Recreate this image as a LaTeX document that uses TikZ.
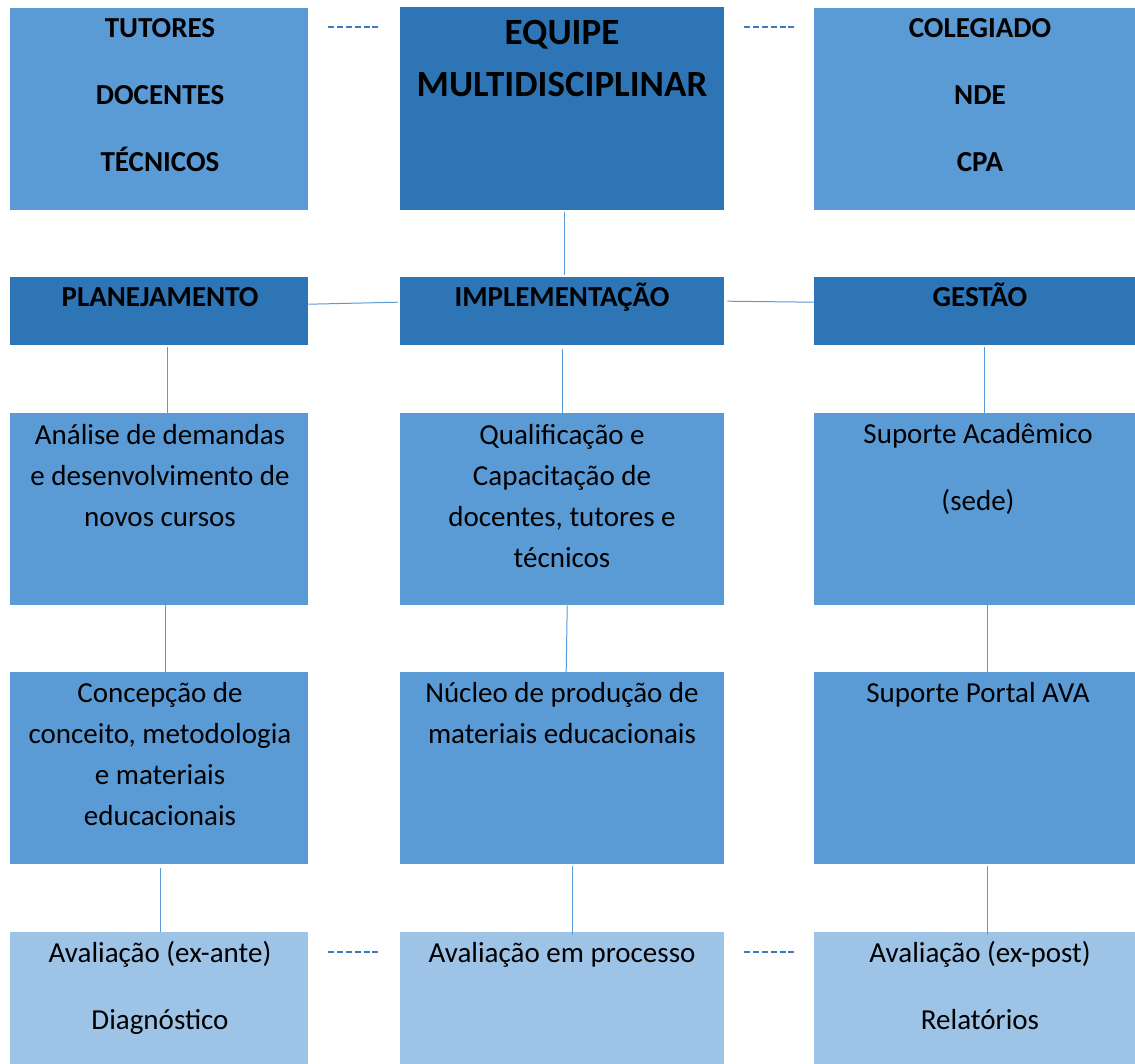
\documentclass[tikz,border=0pt]{standalone}
\usepackage{fontspec}
\setmainfont{Carlito}
\definecolor{midblue}{HTML}{5B9BD5}
\definecolor{darkblue}{HTML}{2E75B6}
\definecolor{lightblue}{HTML}{9DC3E6}
\definecolor{dashblue}{HTML}{3A7BC0}
\tikzset{
  boxbase/.style={anchor=north west, inner sep=0pt, draw=none},
  midbox/.style={boxbase, fill=midblue},
  darkbox/.style={boxbase, fill=darkblue},
  lightbox/.style={boxbase, fill=lightblue},
  txt/.style={anchor=base, inner sep=0pt, align=center, font=\fontsize{29}{41}\selectfont},
  wtxt/.style={anchor=base, inner sep=0pt, align=center, font=\fontsize{29}{67}\selectfont},
  btxt/.style={anchor=base, inner sep=0pt, align=center, font=\bfseries\fontsize{29}{67}\selectfont},
  bigtxt/.style={anchor=base, inner sep=0pt, align=center, font=\bfseries\fontsize{37}{52}\selectfont},
  link/.style={draw=midblue, line width=1pt},
  dashlink/.style={draw=dashblue, line width=2.6pt, dash pattern=on 6pt off 2.8pt}
}
\begin{document}
\begin{tikzpicture}[x=1pt,y=-1pt]
\useasboundingbox (0,0) rectangle (1135,1063);
% row 1
\node[midbox, minimum width=298pt, minimum height=202pt] (tut) at (10,8) {};
\node[darkbox, minimum width=324pt, minimum height=203pt] (equipe) at (400,7) {};
\node[midbox, minimum width=331pt, minimum height=202pt] (coleg) at (814,8) {};
% row 2
\node[darkbox, minimum width=298pt, minimum height=68pt] (plan) at (10,277) {};
\node[darkbox, minimum width=324pt, minimum height=68pt] (impl) at (400,277) {};
\node[darkbox, minimum width=331pt, minimum height=68pt] (gest) at (814,277) {};
% row 3
\node[midbox, minimum width=298pt, minimum height=192pt] (ana) at (10,413) {};
\node[midbox, minimum width=324pt, minimum height=192pt] (qual) at (400,413) {};
\node[midbox, minimum width=331pt, minimum height=192pt] (supa) at (814,413) {};
% row 4
\node[midbox, minimum width=298pt, minimum height=192pt] (conc) at (10,672) {};
\node[midbox, minimum width=324pt, minimum height=192pt] (nucl) at (400,672) {};
\node[midbox, minimum width=331pt, minimum height=192pt] (supp) at (814,672) {};
% row 5
\node[lightbox, minimum width=298pt, minimum height=160pt] (aval1) at (10,932) {};
\node[lightbox, minimum width=324pt, minimum height=160pt] (aval2) at (400,932) {};
\node[lightbox, minimum width=331pt, minimum height=160pt] (aval3) at (814,932) {};

% texts (anchor = baseline of the last line)
\node[btxt] (tutT) at (160,171) {TUTORES\\DOCENTES\\TÉCNICOS};
\node[bigtxt] (equipeT) at (562,96) {EQUIPE\\MULTIDISCIPLINAR};
\node[btxt] (colegT) at (980,171) {COLEGIADO\\NDE\\CPA};
\node[btxt] (planT) at (160,306) {PLANEJAMENTO};
\node[btxt] (implT) at (562,306) {IMPLEMENTAÇÃO};
\node[btxt] (gestT) at (980,306) {GESTÃO};
\node[txt] (anaT) at (160,526) {Análise de demandas\\e desenvolvimento de\\novos cursos};
\node[txt] (qualT) at (562,567) {Qualificação e\\Capacitação de\\docentes, tutores e\\técnicos};
\node[wtxt] (supaT) at (978,510) {Suporte Acadêmico\\(sede)};
\node[txt] (concT) at (160,825) {Concepção de\\conceito, metodologia\\e materiais\\educacionais};
\node[txt] (nuclT) at (562,743) {Núcleo de produção de\\materiais educacionais};
\node[txt] (suppT) at (978,702) {Suporte Portal AVA};
\node[wtxt] (aval1T) at (160,1029) {Avaliação (ex-ante)\\Diagnóstico};
\node[txt] (aval2T) at (562,962) {Avaliação em processo};
\node[wtxt] (aval3T) at (980,1029) {Avaliação (ex-post)\\Relatórios};

% connectors
\draw[link] ([xshift=2pt,yshift=-2pt]equipe.south) -- ([xshift=2pt,yshift=2pt]impl.north);
\draw[link] ([yshift=7pt]plan.east) -- ([xshift=-2pt,yshift=9pt]impl.west);
\draw[link] ([xshift=3pt,yshift=10pt]impl.east) -- ([yshift=9pt]gest.west);
\draw[link] ([xshift=8pt,yshift=-2pt]plan.south) -- ([xshift=8pt]ana.north);
\draw[link] ([yshift=-4pt]impl.south) -- (qual.north);
\draw[link] ([xshift=5pt,yshift=-2pt]gest.south) -- ([xshift=5pt]supa.north);
\draw[link] ([xshift=6pt]ana.south) -- ([xshift=6pt]conc.north);
\draw[link] ([xshift=5pt]qual.south) -- ([xshift=4pt]nucl.north);
\draw[link] ([xshift=8pt]supa.south) -- ([xshift=8pt]supp.north);
\draw[link] ([xshift=1pt,yshift=-4pt]conc.south) -- ([xshift=1pt]aval1.north);
\draw[link] ([xshift=10pt,yshift=-2pt]nucl.south) -- ([xshift=10pt,yshift=-3pt]aval2.north);
\draw[link] ([xshift=8pt,yshift=-2pt]supp.south) -- ([xshift=8pt,yshift=-3pt]aval3.north);

% dashed links
\draw[dashlink] ([shift={(20,19)}]tut.north east) -- ([shift={(-20,20)}]equipe.north west);
\draw[dashlink] ([shift={(20,20)}]equipe.north east) -- ([shift={(-18,19)}]coleg.north west);
\draw[dashlink] ([shift={(20,20)}]aval1.north east) -- ([shift={(-20,20)}]aval2.north west);
\draw[dashlink] ([shift={(20,20)}]aval2.north east) -- ([shift={(-20,20)}]aval3.north west);
\end{tikzpicture}
\end{document}
